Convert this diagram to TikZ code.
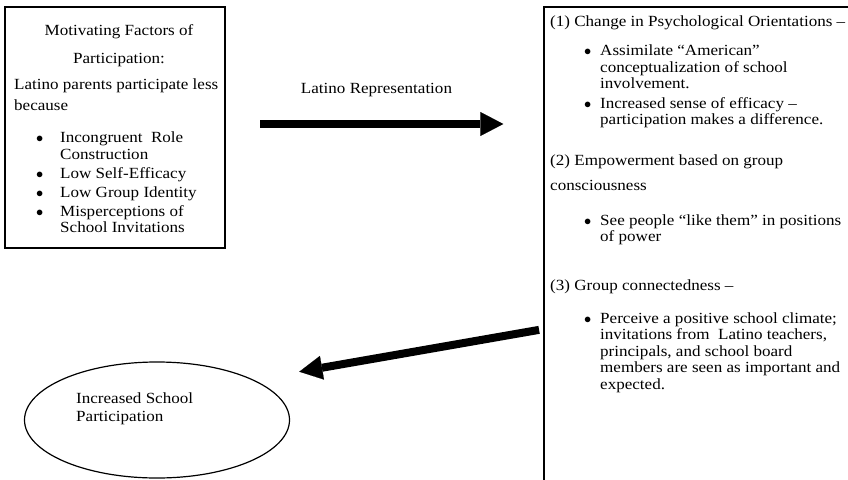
\documentclass[tikz,border=0pt]{standalone}
\usepackage{fontspec}
\setmainfont{Liberation Serif}[FakeStretch=1.1]
\usetikzlibrary{arrows.meta,shapes.geometric}

\begin{document}
\begin{tikzpicture}[x=1pt,y=1pt,
	every node/.style={font=\fontsize{15.5}{16.5}\selectfont},
	box/.style={draw=black,line width=1.2pt,inner sep=0pt,outer sep=0pt},
	txt/.style={anchor=base west,inner sep=0pt},
	fatarrow/.style={line width=8pt,-{Triangle[length=23pt,width=24pt,line width=0.1pt]}}]
	
	\useasboundingbox (0,0) rectangle (848,-479);
	\clip (0,0) rectangle (848,-479);
	
	\node[box,shape=rectangle,minimum width=220pt,minimum height=241pt] (factors) at (115,-127.5) {};
	\node[box,shape=rectangle,minimum width=360pt,minimum height=520pt,anchor=north west] (orient) at (544,-7) {};
	\node[box,shape=ellipse,minimum width=265pt,minimum height=116pt] (outcome) at (157,-420) {};
	
	% left box
	\node[inner sep=0pt,anchor=base] (factorstitle) at (119,-35) {\begin{tabular}[t]{@{}c@{}}Motivating Factors of\\[11.5pt] Participation:\end{tabular}};
	\node[txt] (factorsintro) at (14,-89) {\begin{tabular}[t]{@{}l@{}}Latino parents participate less\\[5.2pt] because\end{tabular}};
	\node[txt] (factorslist) at (36,-142.7) {\begin{tabular}[t]{@{}p{24pt}@{}l@{}}
		$\bullet$ & Incongruent~ Role\\
		          & Construction\\[2.5pt]
		$\bullet$ & Low Self-Efficacy\\[2.5pt]
		$\bullet$ & Low Group Identity\\[2.5pt]
		$\bullet$ & Misperceptions of\\
		          & School Invitations
	\end{tabular}};
	
	% right box
	\node[txt] (change) at (550,-26) {(1) Change in Psychological Orientations –};
	\node[txt] (changelist) at (584,-55.7) {\begin{tabular}[t]{@{}p{16pt}@{}l@{}}
		$\bullet$ & Assimilate “American”\\
		          & conceptualization of school\\
		          & involvement.\\[3pt]
		$\bullet$ & Increased sense of efficacy –\\
		          & participation makes a difference.
	\end{tabular}};
	\node[txt] (empower) at (550,-165) {\begin{tabular}[t]{@{}l@{}}(2) Empowerment based on group\\[8.5pt] consciousness\end{tabular}};
	\node[txt] (empowerlist) at (584,-225) {\begin{tabular}[t]{@{}p{16pt}@{}l@{}}
		$\bullet$ & See people “like them” in positions\\
		          & of power
	\end{tabular}};
	\node[txt] (connect) at (550,-290) {(3) Group connectedness –};
	\node[txt] (connectlist) at (584,-323) {\begin{tabular}[t]{@{}p{16pt}@{}l@{}}
		$\bullet$ & Perceive a positive school climate;\\
		          & invitations from~ Latino teachers,\\
		          & principals, and school board\\
		          & members are seen as important and\\
		          & expected.
	\end{tabular}};
	
	% ellipse
	\node[txt] (outcometext) at (76,-403.3) {\begin{tabular}[t]{@{}l@{}}Increased School\\[1.8pt] Participation\end{tabular}};
	
	\coordinate (replevel) at (0,-124);
	\coordinate (outlevel) at (0,-329);
	\draw[fatarrow,shorten <=35pt,shorten >=40.7pt] (factors.east |- replevel) -- node[above=20pt,xshift=-8pt] {Latino Representation} (orient.west |- replevel);
	\draw[fatarrow,shorten <=5pt] (orient.west |- outlevel) -- ([shift={(9.8pt,48.3pt)}]outcome.east);
	
\end{tikzpicture}
\end{document}
